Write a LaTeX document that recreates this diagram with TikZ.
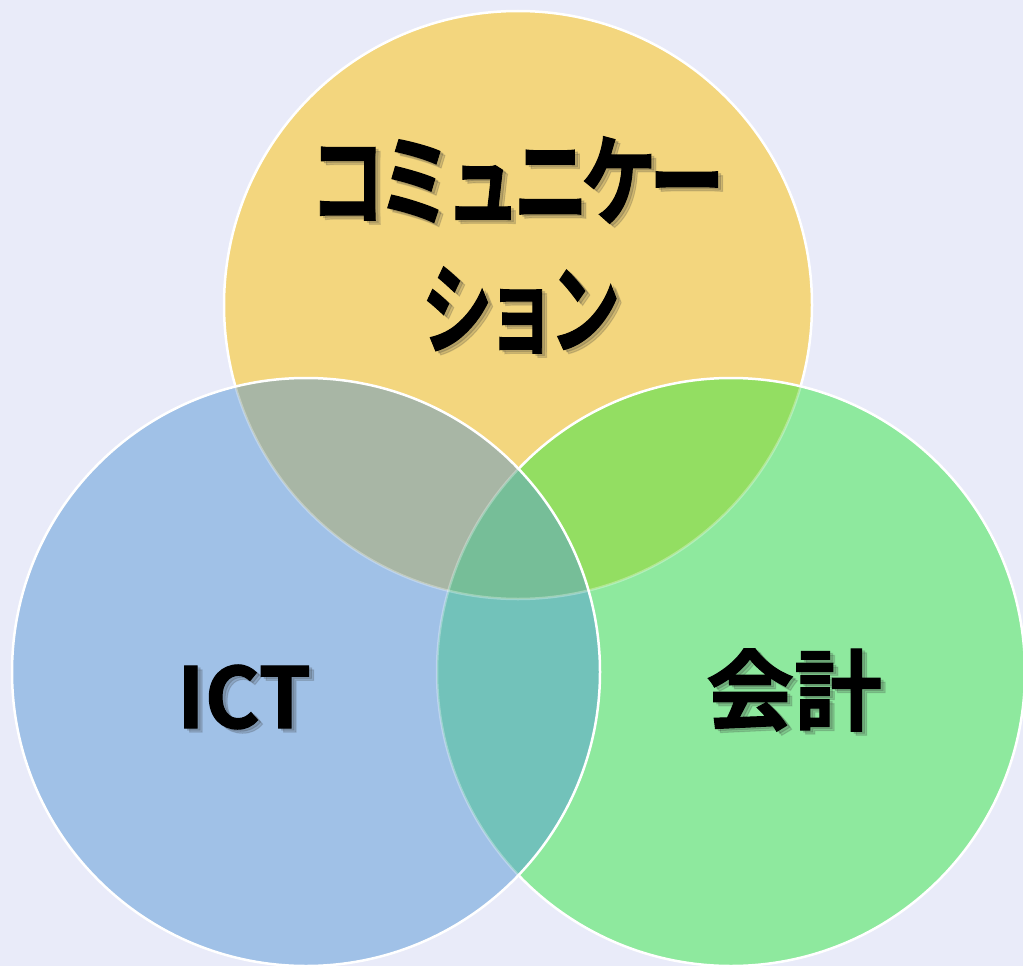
\documentclass[tikz,border=0pt]{standalone}
\usepackage{fontspec}
\newfontfamily\jp{Noto Sans CJK JP}[BoldFont={Noto Sans CJK JP Bold}, BoldFeatures={FakeBold=1.2}]
\newfontfamily\jpk{Noto Sans CJK JP}[BoldFont={Noto Sans CJK JP Bold}, BoldFeatures={FakeBold=1.2, LetterSpace=-10}]
\definecolor{bg}{HTML}{E9EBF9}
\definecolor{cY}{HTML}{F3D67E}
\definecolor{cB}{HTML}{A0C1E7}
\definecolor{cG}{HTML}{8EE99E}
\definecolor{cYB}{HTML}{A8B6A5}
\definecolor{cYG}{HTML}{93DE62}
\definecolor{cBG}{HTML}{72C2BA}
\definecolor{cYBG}{HTML}{76BE98}
\tikzset{
  rim/.style={draw=white, line width=2.5pt},
  faint/.style={draw=white, draw opacity=0.3, line width=2.5pt},
  lbl/.style={text=black, inner sep=0pt},
  shd/.style={text=black!80, text opacity=0.18, inner sep=0pt}
}
\begin{document}
\begin{tikzpicture}[x=1pt,y=-1pt]
\useasboundingbox (0,0) rectangle (1023,966);
\fill[bg] (0,0) rectangle (1023,966);
\coordinate (Y) at (518,305);
\coordinate (B) at (306,672);
\coordinate (G) at (731,672);
% yellow
\fill[cY] (Y) circle[radius=294pt];
\draw[rim] (Y) circle[radius=294pt];
% green
\fill[cG] (G) circle[radius=294pt];
\begin{scope}
  \clip (Y) circle[radius=294pt];
  \fill[cYG] (G) circle[radius=294pt];
\end{scope}
\begin{scope}
  \clip (G) circle[radius=294pt];
  \draw[faint] (Y) circle[radius=294pt];
\end{scope}
\draw[rim] (G) circle[radius=294pt];
% blue
\fill[cB] (B) circle[radius=294pt];
\begin{scope}
  \clip (Y) circle[radius=294pt];
  \fill[cYB] (B) circle[radius=294pt];
\end{scope}
\begin{scope}
  \clip (G) circle[radius=294pt];
  \fill[cBG] (B) circle[radius=294pt];
\end{scope}
\begin{scope}
  \clip (G) circle[radius=294pt];
  \clip (Y) circle[radius=294pt];
  \fill[cYBG] (B) circle[radius=294pt];
\end{scope}
\begin{scope}
  \clip (B) circle[radius=294pt];
  \draw[faint] (Y) circle[radius=294pt];
  \draw[faint] (G) circle[radius=294pt];
\end{scope}
\draw[rim] (B) circle[radius=294pt];
% labels
\tikzset{kana/.style={font=\jpk\bfseries\fontsize{100}{100}\selectfont}}
\node[shd, kana, xscale=0.755] (t1as) at (520,182) {コミュニケー};
\node[shd, kana, xscale=0.755] (t1as2) at (522,184) {コミュニケー};
\node[lbl, kana, xscale=0.755] (t1a) at (517,180) {コミュニケー};
\node[shd, kana, xscale=0.71] (t1bs) at (524,312) {ション};
\node[shd, kana, xscale=0.71] (t1bs2) at (526,314) {ション};
\node[lbl, kana, xscale=0.71] (t1b) at (521,310) {ション};
\tikzset{ict/.style={font=\jp\bfseries\fontsize{84}{84}\selectfont}}
\node[shd, ict] (t2s) at (247,699) {ICT};
\node[shd, ict] (t2s2) at (249,701) {ICT};
\node[lbl, ict] (t2) at (244,697) {ICT};
\tikzset{kai/.style={font=\jp\bfseries\fontsize{88}{88}\selectfont}}
\node[shd, kai] (t3s) at (797,692) {会計};
\node[shd, kai] (t3s2) at (799,694) {会計};
\node[lbl, kai] (t3) at (794,690) {会計};
\end{tikzpicture}
\end{document}
